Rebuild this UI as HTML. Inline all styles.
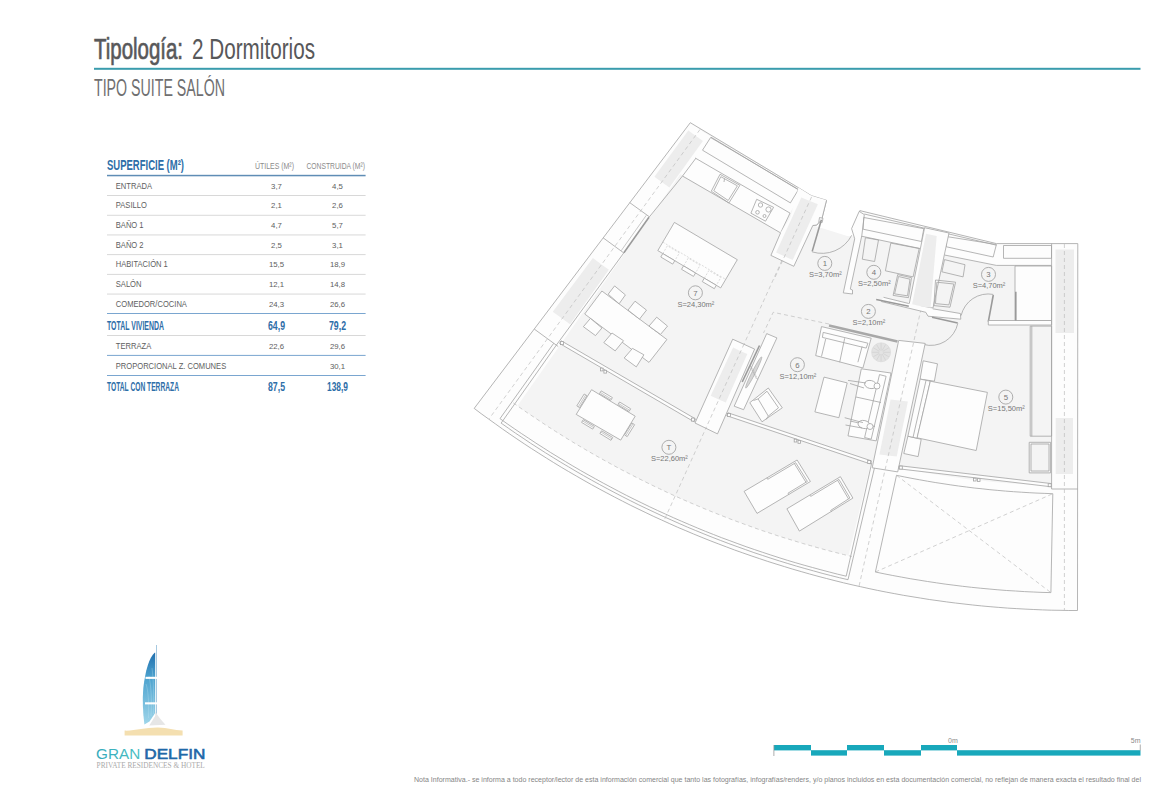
<!DOCTYPE html>
<html><head><meta charset="utf-8"><style>
html,body{margin:0;padding:0;background:#fff;}
svg{display:block;}
.s{fill:none;stroke:#a3a3a3;stroke-width:0.8;}
.fl{fill:#f4f4f4;stroke:none;}
.wh{fill:#fdfdfd;stroke:none;}
.col{fill:#ededed;stroke:none;}
.whs{fill:#fdfdfd;stroke:#a3a3a3;stroke-width:0.8;}
.w{fill:none;stroke:#9a9a9a;stroke-width:1.6;}
.w2{fill:none;stroke:#a8a8a8;stroke-width:2.4;}
.s2{fill:none;stroke:#b0b0b0;stroke-width:0.7;}
.d2{fill:none;stroke:#c4c4c4;stroke-width:0.6;stroke-dasharray:2 1.5;}
.hat{fill:none;stroke:#a8a8a8;stroke-width:0.6;}
.rug{fill:#e3e3e3;stroke:#d6d6d6;stroke-width:0.6;}
.rugl{stroke:#cdcdcd;stroke-width:0.6;}
.lc{fill:none;stroke:#a5a5a5;stroke-width:0.9;}
.ln{font-size:7.8px;fill:#777;}
.lt{font-size:7.8px;fill:#777;}
.d{fill:none;stroke:#bdbdbd;stroke-width:0.7;stroke-dasharray:4 3;}
text{font-family:"Liberation Sans",sans-serif;}
</style></head><body>
<svg width="1170" height="785" viewBox="0 0 1170 785">
<rect width="1170" height="785" fill="#fff"/>
<!-- header -->
<text x="94" y="59" font-size="29" fill="#58585a" stroke="#58585a" stroke-width="0.7" textLength="89" lengthAdjust="spacingAndGlyphs">Tipología:</text>
<text x="192" y="59" font-size="29" fill="#58585a" textLength="123" lengthAdjust="spacingAndGlyphs">2 Dormitorios</text>
<rect x="94" y="67.8" width="1046.5" height="2" fill="#3a9cad"/>
<text x="94" y="96.4" font-size="23.5" fill="#6f6f71" textLength="131" lengthAdjust="spacingAndGlyphs">TIPO SUITE SALÓN</text>
<!-- table -->
<g>
<text x="107" y="169.7" font-size="14.3" font-weight="bold" fill="#2e6ea8" textLength="77" lengthAdjust="spacingAndGlyphs">SUPERFICIE (M²)</text>
<text x="255" y="168.5" font-size="9.6" fill="#8c8c8c" textLength="39" lengthAdjust="spacingAndGlyphs">ÚTILES (M²)</text>
<text x="306.4" y="168.5" font-size="9.6" fill="#8c8c8c" textLength="58.6" lengthAdjust="spacingAndGlyphs">CONSTRUIDA (M²)</text>
<rect x="107" y="174.8" width="258.6" height="1.5" fill="#5f8db5"/>
<text x="115.8" y="188.5" font-size="8.2" fill="#5e5e5e" textLength="36.2" lengthAdjust="spacingAndGlyphs">ENTRADA</text>
<text x="276.5" y="188.5" font-size="7.8" fill="#5e5e5e" text-anchor="middle">3,7</text>
<text x="337.5" y="188.5" font-size="7.8" fill="#5e5e5e" text-anchor="middle">4,5</text>
<rect x="107" y="195.1" width="258.6" height="0.9" fill="#d4d4d4"/>
<text x="115.8" y="208.2" font-size="8.2" fill="#5e5e5e" textLength="31.0" lengthAdjust="spacingAndGlyphs">PASILLO</text>
<text x="276.5" y="208.2" font-size="7.8" fill="#5e5e5e" text-anchor="middle">2,1</text>
<text x="337.5" y="208.2" font-size="7.8" fill="#5e5e5e" text-anchor="middle">2,6</text>
<rect x="107" y="214.8" width="258.6" height="0.9" fill="#d4d4d4"/>
<text x="115.8" y="227.9" font-size="8.2" fill="#5e5e5e" textLength="27.8" lengthAdjust="spacingAndGlyphs">BAÑO 1</text>
<text x="276.5" y="227.9" font-size="7.8" fill="#5e5e5e" text-anchor="middle">4,7</text>
<text x="337.5" y="227.9" font-size="7.8" fill="#5e5e5e" text-anchor="middle">5,7</text>
<rect x="107" y="234.5" width="258.6" height="0.9" fill="#d4d4d4"/>
<text x="115.8" y="247.6" font-size="8.2" fill="#5e5e5e" textLength="27.8" lengthAdjust="spacingAndGlyphs">BAÑO 2</text>
<text x="276.5" y="247.6" font-size="7.8" fill="#5e5e5e" text-anchor="middle">2,5</text>
<text x="337.5" y="247.6" font-size="7.8" fill="#5e5e5e" text-anchor="middle">3,1</text>
<rect x="107" y="254.2" width="258.6" height="0.9" fill="#d4d4d4"/>
<text x="115.8" y="267.3" font-size="8.2" fill="#5e5e5e" textLength="52.0" lengthAdjust="spacingAndGlyphs">HABITACIÓN 1</text>
<text x="276.5" y="267.3" font-size="7.8" fill="#5e5e5e" text-anchor="middle">15,5</text>
<text x="337.5" y="267.3" font-size="7.8" fill="#5e5e5e" text-anchor="middle">18,9</text>
<rect x="107" y="273.9" width="258.6" height="0.9" fill="#d4d4d4"/>
<text x="115.8" y="287.0" font-size="8.2" fill="#5e5e5e" textLength="25.7" lengthAdjust="spacingAndGlyphs">SALÓN</text>
<text x="276.5" y="287.0" font-size="7.8" fill="#5e5e5e" text-anchor="middle">12,1</text>
<text x="337.5" y="287.0" font-size="7.8" fill="#5e5e5e" text-anchor="middle">14,8</text>
<rect x="107" y="293.6" width="258.6" height="0.9" fill="#d4d4d4"/>
<text x="115.8" y="306.7" font-size="8.2" fill="#5e5e5e" textLength="71.1" lengthAdjust="spacingAndGlyphs">COMEDOR/COCINA</text>
<text x="276.5" y="306.7" font-size="7.8" fill="#5e5e5e" text-anchor="middle">24,3</text>
<text x="337.5" y="306.7" font-size="7.8" fill="#5e5e5e" text-anchor="middle">26,6</text>
<rect x="107" y="313" width="258.6" height="1" fill="#7aa6d0"/>
<text x="107" y="329.5" font-size="12.3" font-weight="bold" fill="#2e6ea8" textLength="57" lengthAdjust="spacingAndGlyphs">TOTAL VIVIENDA</text>
<text x="276.5" y="329.5" font-size="12.3" font-weight="bold" fill="#2e6ea8" text-anchor="middle" textLength="17" lengthAdjust="spacingAndGlyphs">64,9</text>
<text x="337.5" y="329.5" font-size="12.3" font-weight="bold" fill="#2e6ea8" text-anchor="middle" textLength="17" lengthAdjust="spacingAndGlyphs">79,2</text>
<rect x="107" y="335" width="258.6" height="0.9" fill="#d4d4d4"/>
<text x="115.8" y="348.6" font-size="8.2" fill="#5e5e5e" textLength="35.4" lengthAdjust="spacingAndGlyphs">TERRAZA</text>
<text x="276.5" y="348.6" font-size="7.8" fill="#5e5e5e" text-anchor="middle">22,6</text>
<text x="337.5" y="348.6" font-size="7.8" fill="#5e5e5e" text-anchor="middle">29,6</text>
<rect x="107" y="354.9" width="258.6" height="1" fill="#7aa6d0"/>
<text x="115.8" y="368.5" font-size="8.2" fill="#5e5e5e" textLength="110.4" lengthAdjust="spacingAndGlyphs">PROPORCIONAL Z. COMUNES</text>
<text x="337.5" y="368.5" font-size="7.8" fill="#5e5e5e" text-anchor="middle">30,1</text>
<rect x="107" y="375" width="258.6" height="1" fill="#7aa6d0"/>
<text x="107" y="391" font-size="12.3" font-weight="bold" fill="#2e6ea8" textLength="72" lengthAdjust="spacingAndGlyphs">TOTAL CON TERRAZA</text>
<text x="276.5" y="391" font-size="12.3" font-weight="bold" fill="#2e6ea8" text-anchor="middle" textLength="17" lengthAdjust="spacingAndGlyphs">87,5</text>
<text x="337.5" y="391" font-size="12.3" font-weight="bold" fill="#2e6ea8" text-anchor="middle" textLength="21" lengthAdjust="spacingAndGlyphs">138,9</text>
</g>
<!-- plan -->
<g>
<polygon class="fl" points="690.3,122.7 798.6,187.8 811.4,195.7 826.5,200.3 821.9,218.7 816.8,225.0 812.8,225.5 820.8,227.8 847.2,235.9 855.5,236.8 859.8,210.6 996.4,243.6 1077.8,243.6 1077.5,610.3 1077.5,610.5 1068.8,610.5 1060.0,610.3 1051.3,610.2 1042.5,609.9 1033.8,609.5 1025.0,609.1 1016.3,608.6 1007.6,608.1 998.8,607.4 990.1,606.7 981.4,605.9 972.7,605.0 964.0,604.0 955.3,603.0 946.6,601.9 938.0,600.7 929.3,599.5 920.7,598.1 912.0,596.7 903.4,595.3 894.8,593.7 886.2,592.1 877.6,590.4 869.1,588.6 860.5,586.7 852.0,584.8 843.5,582.8 835.0,580.7 826.5,578.5 818.0,576.3 809.6,574.0 801.2,571.6 792.8,569.2 784.4,566.6 776.0,564.0 767.7,561.4 759.4,558.6 751.1,555.8 742.8,552.9 734.6,550.0 726.4,546.9 718.2,543.8 710.1,540.7 701.9,537.4 693.8,534.1 685.8,530.7 677.7,527.3 669.7,523.7 661.8,520.1 653.8,516.5 645.9,512.7 638.0,508.9 630.2,505.1 622.4,501.1 614.6,497.1 606.9,493.0 599.2,488.9 591.5,484.7 583.9,480.4 576.3,476.0 568.7,471.6 561.2,467.2 553.7,462.6 546.3,458.0 538.9,453.3 531.5,448.6 524.2,443.8 516.9,438.9 509.7,434.0 502.5,429.0 495.4,423.9 488.3,418.8 481.2,413.7 474.2,408.4" />
<polygon class="wh" points="514.7,403.9 521.8,408.9 529.0,413.8 536.2,418.7 543.4,423.5 550.7,428.2 558.0,432.9 565.4,437.5 572.8,442.1 580.3,446.5 587.8,450.9 595.3,455.3 602.9,459.6 610.5,463.8 618.2,467.9 625.9,472.0 633.6,476.0 641.3,479.9 649.1,483.7 657.0,487.5 664.8,491.3 672.7,494.9 680.7,498.5 688.6,502.0 696.6,505.4 704.6,508.8 712.7,512.1 720.7,515.3 728.9,518.5 737.0,521.5 745.2,524.5 753.3,527.5 761.6,530.3 769.8,533.1 778.1,535.8 786.3,538.5 794.7,541.0 803.0,543.5 811.3,545.9 819.7,548.3 828.1,550.5 836.5,552.7 845.0,554.8 853.4,556.9 847.1,583.6 838.4,581.5 829.7,579.4 821.1,577.1 812.4,574.8 803.8,572.4 795.2,569.9 786.7,567.3 778.1,564.7 769.6,562.0 761.1,559.2 752.6,556.3 744.2,553.4 735.8,550.4 727.4,547.3 719.0,544.1 710.7,540.9 702.4,537.6 694.1,534.2 685.8,530.7 677.6,527.2 669.4,523.6 661.3,519.9 653.2,516.2 645.1,512.3 637.0,508.4 629.0,504.5 621.1,500.4 613.1,496.3 605.2,492.1 597.3,487.9 589.5,483.6 581.7,479.2 574.0,474.7 566.3,470.2 558.6,465.6 551.0,460.9 543.4,456.2 535.8,451.4 528.3,446.5 520.9,441.6 513.5,436.6 506.1,431.5 498.8,426.4" />
<polygon class="wh" points="871.3,461.4 878.8,463.2 886.3,464.9 893.8,466.6 901.4,468.1 908.9,469.6 916.5,471.1 924.1,472.5 931.7,473.8 939.3,475.0 946.9,476.2 954.5,477.3 962.2,478.4 969.8,479.4 977.5,480.3 985.2,481.1 992.8,481.9 1000.5,482.6 1008.2,483.3 1015.9,483.8 1023.6,484.3 1031.3,484.8 1039.0,485.2 1046.7,485.5 1054.4,485.7 1062.1,485.9 1069.8,486.0 1077.5,486.0 1077.5,610.3 1077.5,610.5 1068.7,610.5 1059.9,610.3 1051.1,610.2 1042.3,609.9 1033.5,609.5 1024.7,609.1 1015.9,608.6 1007.1,608.0 998.3,607.4 989.6,606.6 980.8,605.8 972.0,604.9 963.3,604.0 954.5,602.9 945.8,601.8 937.1,600.6 928.4,599.3 919.7,598.0 911.0,596.6 902.3,595.1 893.7,593.5 885.0,591.8 876.4,590.1 867.8,588.3 859.2,586.4 850.6,584.5 842.0,582.4" />
<polygon class="wh" points="690.3,122.3 696.1,126.6 701.9,130.9 707.8,135.1 501.6,428.4 492.5,421.9 483.4,415.2 474.4,408.5" />
<polygon class="wh" points="1051.6,243.6 1077.8,243.6 1077.5,610.3 1051.6,610.0" />
<polygon class="wh" points="705.0,133.1 802.7,190.3 790.0,213.1 780.6,232.9 677.2,172.3" />
<polygon class="wh" points="859.8,210.6 996.4,243.6 1077.8,243.6 1051.6,265.4 996.4,265.4 944.5,255.0 920.0,248.5 861.5,236.2 855.5,236.8" />
<polygon class="col" points="688.3,130.4 702.9,141.0 669.4,187.5 654.4,176.7" />
<polygon class="col" points="592.9,258.0 600.8,263.9 608.9,269.7 570.1,324.3 561.4,318.1 552.8,311.7" />
<polygon class="col" points="1055.5,249.5 1074.0,249.5 1074.0,333.0 1055.5,333.0" />
<polygon class="col" points="1055.7,418.0 1073.0,418.0 1073.0,474.0 1055.7,474.0" />
<polyline class="s" points="690.3,122.7 798.6,187.8 811.4,195.7 826.5,200.3 821.9,218.7 816.8,225.0 812.8,225.5" />
<polyline class="s" points="855.5,236.8 859.8,210.6 996.4,243.6 1077.8,243.6 1077.5,610.3 1077.5,610.5 1068.8,610.5 1060.0,610.3 1051.3,610.2 1042.5,609.9 1033.8,609.5 1025.0,609.1 1016.3,608.6 1007.6,608.1 998.8,607.4 990.1,606.7 981.4,605.9 972.7,605.0 964.0,604.0 955.3,603.0 946.6,601.9 938.0,600.7 929.3,599.5 920.7,598.1 912.0,596.7 903.4,595.3 894.8,593.7 886.2,592.1 877.6,590.4 869.1,588.6 860.5,586.7 852.0,584.8 843.5,582.8 835.0,580.7 826.5,578.5 818.0,576.3 809.6,574.0 801.2,571.6 792.8,569.2 784.4,566.6 776.0,564.0 767.7,561.4 759.4,558.6 751.1,555.8 742.8,552.9 734.6,550.0 726.4,546.9 718.2,543.8 710.1,540.7 701.9,537.4 693.8,534.1 685.8,530.7 677.7,527.3 669.7,523.7 661.8,520.1 653.8,516.5 645.9,512.7 638.0,508.9 630.2,505.1 622.4,501.1 614.6,497.1 606.9,493.0 599.2,488.9 591.5,484.7 583.9,480.4 576.3,476.0 568.7,471.6 561.2,467.2 553.7,462.6 546.3,458.0 538.9,453.3 531.5,448.6 524.2,443.8 516.9,438.9 509.7,434.0 502.5,429.0 495.4,423.9 488.3,418.8 481.2,413.7 474.2,408.4 690.3,122.7" />
<polyline class="s" points="695.9,158.2 682.7,175.8 649.2,217.1" />
<polyline class="s" points="623.8,252.9 556.3,345.2 502.0,421.9" />
<line class="s" x1="629.7" y1="202.6" x2="649.5" y2="216.9" />
<line class="s" x1="603.1" y1="237.8" x2="624.0" y2="253.1" />
<line class="s" x1="534.3" y1="329.1" x2="558.2" y2="346.5" />
<line class="w" x1="649.0" y1="217.2" x2="623.9" y2="252.7" />
<line class="s2" x1="646.3" y1="215.3" x2="621.1" y2="250.8" />
<polyline class="d" points="700.0,129.5 489.1,418.8" />
<polyline class="s" points="553.7,343.3 500.0,418.6 500.0,418.6 507.1,423.7 514.2,428.6 521.4,433.5 528.7,438.3 535.9,443.1 543.3,447.8 550.6,452.5 558.0,457.0 565.4,461.5 572.9,466.0 580.4,470.4 588.0,474.7 595.6,478.9 603.2,483.1 610.9,487.2 618.6,491.3 626.3,495.3 634.1,499.2 641.9,503.0 649.7,506.8 657.6,510.5 665.5,514.1 673.4,517.7 681.4,521.2 689.4,524.6 697.4,528.0 705.4,531.3 713.5,534.5 721.6,537.7 729.8,540.7 737.9,543.7 746.1,546.7 754.3,549.5 762.6,552.3 770.8,555.0 779.1,557.7 787.4,560.3 795.8,562.8 804.1,565.2 812.5,567.5 820.9,569.8 829.3,572.0 837.7,574.2 846.2,576.2" />
<polyline class="s" points="502.0,421.9 501.1,423.1 508.4,428.2 515.7,433.3 523.1,438.2 530.5,443.2 538.0,448.0 545.5,452.8 553.1,457.5 560.7,462.2 568.3,466.7 576.0,471.3 583.7,475.7 591.5,480.1 599.3,484.4 607.1,488.6 615.0,492.8 622.9,496.9 630.8,500.9 638.8,504.9 646.8,508.7 654.9,512.5 663.0,516.3 671.1,519.9 679.2,523.5 687.4,527.1 695.6,530.5 703.9,533.9 712.1,537.2 720.4,540.4 728.8,543.6 737.1,546.6 745.5,549.6 753.9,552.6 762.4,555.4 770.8,558.2 779.3,560.9 787.8,563.5 796.4,566.1 804.9,568.5 813.5,570.9 822.1,573.3 830.7,575.5 839.4,577.7 848.0,579.7" />
<polyline class="d" points="513.3,402.9 520.2,407.8 527.2,412.7 534.3,417.4 541.3,422.1 548.4,426.8 555.6,431.4 562.8,435.9 570.0,440.4 577.3,444.8 584.6,449.1 592.0,453.4 599.4,457.6 606.8,461.7 614.2,465.8 621.7,469.8 629.3,473.7 636.8,477.6 644.4,481.4 652.1,485.2 659.7,488.8 667.4,492.5 675.1,496.0 682.9,499.5 690.7,502.9 698.5,506.2 706.3,509.5 714.2,512.7 722.1,515.8 730.0,518.9 738.0,521.9 746.0,524.8 754.0,527.7 762.0,530.5 770.1,533.2 778.1,535.9 786.2,538.4 794.4,540.9 802.5,543.4 810.7,545.7 818.8,548.0 827.1,550.3 835.3,552.4 843.5,554.5 851.8,556.5" />
<polyline class="s" points="871.8,462.6 846.2,576.2" />
<polyline class="s" points="875.5,463.5 848.0,579.7" />
<polyline class="d" points="811.0,196.4 664.0,520.6" />
<polyline class="d" points="937.9,233.6 859.1,585.9" />
<polyline class="s" points="711.0,137.2 797.8,189.4" />
<polygon class="s" points="710.6,137.5 798.5,189.5 790.4,202.9 702.5,150.2" />
<polyline class="s" points="695.2,158.0 790.0,213.1 780.6,232.9" />
<polyline class="s" points="682.6,176.1 780.6,232.9" />
<polygon class="s" points="720.0,174.3 739.9,185.3 728.9,203.0 711.3,191.2" />
<polygon class="s" points="720.8,176.7 737.4,185.8 728.2,200.5 713.8,190.7" />
<line class="s" x1="724.5" y1="178.5" x2="724.0" y2="182.0" />
<polygon class="s" points="756.7,199.3 773.6,207.3 765.5,221.2 750.9,213.2" />
<circle class="s" cx="760.5" cy="205.0" r="2.2" />
<circle class="s" cx="768.5" cy="209.5" r="2.6" />
<circle class="s" cx="757.5" cy="212.3" r="1.8" />
<circle class="s" cx="764.5" cy="216.0" r="1.5" />
<polygon class="wh" points="798.6,187.8 811.4,195.7 826.5,200.3 821.9,218.7 816.8,225.0 812.8,225.5 793.8,266.3 770.9,255.4 780.5,233.0 790.4,217.0" />
<polyline class="s" points="826.5,200.3 821.9,218.7 816.8,225.0 812.8,225.5 793.8,266.3 770.9,255.4 780.5,233.0" />
<polygon class="whs" points="819.5,217.5 823.0,218.3 822.2,222.5 818.8,221.8" stroke-width="0.6"/>
<polygon class="col" points="801.3,197.5 817.9,204.3 792.7,260.0 776.1,252.5" />
<line class="d" x1="811.6" y1="196.9" x2="773.8" y2="280.0" />
<line class="w" x1="821.4" y1="219.8" x2="812.2" y2="251.4" />
<path class="s" d="M812.2,251.9 A33.4,33.4 0 0 0 851.7,235.3"/>
<polygon class="whs" points="859.2,211.4 864.3,214.6 861.8,235.6 850.3,289.1 852.5,290.0 852.5,294.0 843.3,292.9 854.7,238.8 851.6,228.6" />
<polyline class="s" points="864.3,214.0 996.4,245.2" />
<polygon class="s" points="863.8,217.5 923.8,228.7 921.5,241.5 863.1,229.2" />
<polyline class="s" points="861.5,236.2 920.0,248.5" />
<polygon class="s" points="946.4,236.5 996.4,244.5 993.2,257.0 946.4,246.8" />
<polyline class="s" points="944.5,255.0 996.4,265.4 1051.6,265.4" />
<polygon class="s" points="1003.5,245.5 1051.5,245.5 1051.5,258.3 1003.5,258.3" />
<polygon class="whs" points="924.6,227.7 949.0,233.0 933.0,308.0 909.0,305.0" />
<polygon class="col" points="926.0,233.8 936.7,236.0 930.6,307.8 912.0,305.0" />
<polygon class="s" points="865.4,237.7 878.5,240.0 874.6,261.5 862.3,259.2" />
<polygon class="s" points="890.8,243.1 919.2,248.5 913.1,276.9 885.4,270.8" />
<polygon class="s" points="897.7,274.6 911.5,277.7 908.5,297.7 893.1,295.4" />
<polygon class="s" points="898.5,276.5 910.0,279.2 907.5,295.8 894.6,293.9" />
<polygon class="wh" points="883.5,297.3 908.8,303.5 932.7,308.8 960.4,313.5 960.8,319.2 928.0,316.2 925.8,312.3 881.2,301.5" />
<polyline class="s" points="883.5,297.3 908.8,303.5" />
<polyline class="s" points="932.7,308.8 960.4,313.5 960.8,319.2" />
<polyline class="s" points="881.2,301.5 925.8,312.3 928.0,316.2 960.8,319.2" />
<line class="w" x1="876.2" y1="299.5" x2="908.8" y2="306.2" />
<line class="w" x1="932.0" y1="317.3" x2="957.7" y2="323.0" />
<polygon class="s" points="944.5,259.6 965.0,264.7 963.1,276.9 941.9,271.8" />
<polygon class="s" points="935.5,280.0 955.6,282.2 950.0,307.2 933.9,305.6" />
<polygon class="s" points="936.8,282.2 953.8,284.0 948.9,304.9 935.5,303.6" />
<line class="w" x1="993.3" y1="295.0" x2="988.3" y2="321.7" />
<path class="s" d="M961.1,315.6 A27.9,27.9 0 0 1 993.3,294.4"/>
<polygon class="whs" points="988.3,320.5 1051.6,320.5 1051.6,325.0 988.3,325.0" />
<polygon class="whs" points="1015.0,266.0 1051.6,266.0 1051.6,320.5 1015.0,320.5" />
<line class="w" x1="1015.8" y1="291.7" x2="1015.8" y2="320.5" />
<line class="s" x1="1051.6" y1="243.6" x2="1051.6" y2="489.0" />
<path class="s" d="M957.8,323.3 A27.6,27.6 0 0 1 923.3,344.4"/>
<polygon class="whs" points="898.7,340.4 925.2,343.4 897.7,471.9 872.2,467.8" />
<polygon class="col" points="890.6,399.5 907.9,401.5 896.7,456.6 879.4,454.6" />
<line class="d" x1="913.5" y1="342.9" x2="885.1" y2="469.8" />
<line class="w2" x1="829.0" y1="325.5" x2="897.5" y2="341.5" />
<polygon class="whs" points="821.5,326.6 871.2,338.2 862.9,368.0 815.7,355.6" />
<polygon class="s" points="823.2,332.4 867.9,343.2 866.2,348.1 822.4,337.4" />
<line class="s" x1="825.7" y1="339.0" x2="821.5" y2="356.4" />
<line class="s" x1="862.1" y1="346.5" x2="857.9" y2="362.2" />
<line class="s" x1="844.7" y1="338.2" x2="839.7" y2="362.2" />
<circle class="rug" cx="881.1" cy="352.3" r="9.5" />
<line class="rugl" x1="883.1" y1="352.3" x2="890.1" y2="352.3" />
<line class="rugl" x1="882.8" y1="353.3" x2="888.9" y2="356.8" />
<line class="rugl" x1="882.1" y1="354.0" x2="885.6" y2="360.1" />
<line class="rugl" x1="881.1" y1="354.3" x2="881.1" y2="361.3" />
<line class="rugl" x1="880.1" y1="354.0" x2="876.6" y2="360.1" />
<line class="rugl" x1="879.4" y1="353.3" x2="873.3" y2="356.8" />
<line class="rugl" x1="879.1" y1="352.3" x2="872.1" y2="352.3" />
<line class="rugl" x1="879.4" y1="351.3" x2="873.3" y2="347.8" />
<line class="rugl" x1="880.1" y1="350.6" x2="876.6" y2="344.5" />
<line class="rugl" x1="881.1" y1="350.3" x2="881.1" y2="343.3" />
<line class="rugl" x1="882.1" y1="350.6" x2="885.6" y2="344.5" />
<line class="rugl" x1="882.8" y1="351.3" x2="888.9" y2="347.8" />
<polygon class="whs" points="861.3,368.8 891.0,373.0 876.2,440.9 848.0,435.9" />
<polygon class="s" points="879.5,374.6 886.1,376.3 871.2,439.2 864.6,437.5" />
<line class="s" x1="856.0" y1="397.0" x2="881.0" y2="402.5" />
<line class="s" x1="850.0" y1="421.0" x2="875.0" y2="426.5" />
<ellipse class="whs" cx="870.5" cy="384.5" rx="6" ry="4" transform="rotate(12 870.5 384.5)" stroke-width="0.6"/>
<circle class="whs" cx="877.0" cy="386.0" r="3.0" stroke-width="0.6"/>
<line class="s" x1="848.0" y1="380.4" x2="866.0" y2="383.0" stroke-width="0.6"/>
<line class="s" x1="850.0" y1="383.5" x2="864.0" y2="388.0" stroke-width="0.6"/>
<ellipse class="whs" cx="864" cy="424.5" rx="6" ry="4" transform="rotate(12 864 424.5)" stroke-width="0.6"/>
<circle class="whs" cx="870.0" cy="426.5" r="3.0" stroke-width="0.6"/>
<line class="s" x1="844.7" y1="417.7" x2="862.9" y2="422.6" stroke-width="0.6"/>
<line class="s" x1="845.5" y1="425.0" x2="862.0" y2="428.0" stroke-width="0.6"/>
<polygon class="whs" points="824.0,377.1 847.2,382.9 838.9,417.7 814.9,411.9" />
<polygon class="whs" points="766.7,333.6 776.9,337.9 743.6,409.7 734.2,406.2" />
<line class="w" x1="759.5" y1="345.5" x2="742.2" y2="382.0" />
<ellipse cx="753.7" cy="372.5" rx="17.5" ry="1.7" transform="rotate(117 753.7 372.5)" fill="#d6d6d6" stroke="#a8a8a8" stroke-width="0.6"/>
<line class="hat" x1="749.2" y1="365.8" x2="752.2" y2="367.4" />
<line class="hat" x1="750.2" y1="367.8" x2="753.2" y2="369.4" />
<line class="hat" x1="751.2" y1="369.7" x2="754.2" y2="371.3" />
<line class="hat" x1="752.2" y1="371.7" x2="755.2" y2="373.3" />
<line class="hat" x1="753.2" y1="373.7" x2="756.2" y2="375.3" />
<line class="hat" x1="754.2" y1="375.6" x2="757.2" y2="377.2" />
<line class="hat" x1="755.2" y1="377.6" x2="758.2" y2="379.2" />
<polygon class="whs" points="732.7,339.2 754.6,349.1 717.5,433.9 695.0,423.0" />
<polygon class="col" points="733.1,347.6 740.2,350.9 747.3,354.1 725.8,402.6 718.2,399.2 710.7,395.7" />
<line class="d" x1="744.1" y1="343.9" x2="705.7" y2="428.6" />
<polygon class="whs" points="768.3,388.0 782.3,407.8 762.0,421.8 749.8,402.7" stroke-linejoin="round"/>
<polygon class="s" points="758.1,398.9 767.0,391.2 778.5,407.8 768.3,416.1" />
<line class="s" x1="753.5" y1="400.5" x2="758.1" y2="398.9" />
<line class="s" x1="768.3" y1="416.1" x2="766.0" y2="419.5" />
<polyline class="d" points="829.0,324.0 773.2,312.3 763.5,333.0" />
<polygon class="whs" points="561.3,340.8 695.5,418.9 694.1,421.8 559.5,343.4" stroke-width="0.7"/>
<rect class="whs" x="560.4" y="341.6" width="3" height="3" stroke-width="0.6"/>
<rect class="whs" x="691.6" y="418.1" width="3" height="3" stroke-width="0.6"/>
<rect class="whs" x="603.9" y="370.3" width="2.6" height="2.8" stroke-width="0.6"/>
<rect class="whs" x="600.4" y="368.1" width="2.6" height="2.8" stroke-width="0.6"/>
<polygon class="whs" points="728.0,412.8 871.4,460.9 870.6,464.0 726.7,415.7" stroke-width="0.7"/>
<rect class="whs" x="727.5" y="413.5" width="3" height="3" stroke-width="0.6"/>
<rect class="whs" x="867.7" y="460.5" width="3" height="3" stroke-width="0.6"/>
<rect class="whs" x="798.0" y="440.5" width="2.6" height="2.8" stroke-width="0.6"/>
<rect class="whs" x="794.2" y="439.2" width="2.6" height="2.8" stroke-width="0.6"/>
<polygon class="whs" points="899.3,465.7 1051.5,483.6 1051.4,486.8 898.7,468.8" stroke-width="0.7"/>
<rect class="whs" x="899.3" y="466.1" width="3" height="3" stroke-width="0.6"/>
<rect class="whs" x="1048.2" y="483.7" width="3" height="3" stroke-width="0.6"/>
<rect class="whs" x="977.4" y="478.6" width="2.6" height="2.8" stroke-width="0.6"/>
<rect class="whs" x="973.5" y="478.2" width="2.6" height="2.8" stroke-width="0.6"/>
<polygon class="whs" points="674.4,222.4 737.3,259.7 720.7,287.9 657.8,250.6" />
<polyline class="d2" points="662.8,242.1 725.7,279.4" />
<polygon class="whs" points="662.8,253.6 674.8,260.7 672.7,264.1 660.8,257.0" />
<polyline class="d2" points="662.8,253.6 667.4,245.8 679.4,252.9 674.8,260.7" />
<polygon class="whs" points="683.6,265.9 695.5,273.0 693.5,276.4 681.5,269.3" />
<polyline class="d2" points="683.6,265.9 688.2,258.2 700.1,265.2 695.5,273.0" />
<polygon class="whs" points="704.3,278.2 716.3,285.3 714.3,288.7 702.3,281.6" />
<polyline class="d2" points="704.3,278.2 708.9,270.5 720.9,277.5 716.3,285.3" />
<polygon class="whs" points="601.9,291.0 666.9,339.5 649.0,362.4 584.7,314.0" />
<polygon class="whs" points="614.6,285.9 625.4,294.9 619.1,303.8 608.2,294.2" />
<polygon class="whs" points="635.0,301.2 646.5,310.1 639.5,319.1 628.0,310.1" />
<polygon class="whs" points="656.7,317.2 667.5,326.1 660.5,334.4 649.0,326.1" />
<polygon class="whs" points="590.4,318.4 601.9,328.0 595.5,335.6 583.4,326.7" />
<polygon class="whs" points="612.0,333.0 623.5,340.7 615.2,350.9 603.8,342.6" />
<polygon class="whs" points="632.5,348.4 643.9,354.8 636.3,366.9 624.2,358.0" />
<polygon class="whs" points="591.6,389.7 635.2,416.2 620.7,440.1 576.2,414.4" />
<polygon class="whs" points="610.7,400.3 599.5,393.6 601.2,390.9 612.4,397.6" />
<polyline class="s2" points="611.4,399.1 600.3,392.4" />
<polygon class="whs" points="594.4,426.4 583.3,419.7 581.6,422.4 592.7,429.1" />
<polyline class="s2" points="593.6,427.6 582.5,420.9" />
<polygon class="whs" points="629.0,411.5 617.9,404.7 619.6,402.0 630.7,408.8" />
<polyline class="s2" points="629.7,410.3 618.6,403.5" />
<polygon class="whs" points="612.7,437.5 601.6,430.8 599.9,433.5 611.0,440.3" />
<polyline class="s2" points="612.0,438.8 600.9,432.0" />
<polygon class="whs" points="579.5,407.6 586.9,395.7 584.2,394.0 576.8,405.9" />
<polyline class="s2" points="578.3,406.8 585.7,394.9" />
<polygon class="whs" points="624.5,434.9 631.9,423.0 634.6,424.7 627.2,436.6" />
<polyline class="s2" points="625.7,435.7 633.1,423.8" />
<polygon class="whs" points="797.1,460.0 810.4,481.5 757.0,513.4 744.1,491.4" />
<polyline class="s" points="766.9,477.9 767.7,479.3 795.7,462.7 807.4,481.4 788.0,493.2 788.8,494.6" />
<polyline class="s" points="794.3,463.5 806.0,482.3" />
<polygon class="whs" points="840.4,476.7 852.9,498.1 799.4,531.1 786.9,508.8" />
<polyline class="s" points="809.9,495.0 810.7,496.4 839.0,479.4 849.9,498.0 830.7,510.4 831.5,511.8" />
<polyline class="s" points="837.6,480.3 848.5,498.9" />
<polyline class="s" points="896.5,475.3 904.2,476.9 912.0,478.4 919.7,479.8 927.5,481.2 935.2,482.5 943.0,483.7 950.8,484.9 958.6,486.0 966.4,487.0 974.2,488.0 982.1,488.8 989.9,489.7 997.8,490.4 1005.6,491.1 1013.5,491.7 1021.3,492.2 1029.2,492.7 1037.0,493.1 1044.9,493.4 1052.8,493.7 1050.9,592.6 1042.0,592.4 1033.2,592.0 1024.4,591.6 1015.5,591.0 1006.7,590.5 997.9,589.8 989.1,589.0 980.3,588.2 971.5,587.3 962.7,586.3 953.9,585.2 945.1,584.1 936.4,582.8 927.6,581.5 918.9,580.1 910.2,578.7 901.5,577.1 892.8,575.5 884.1,573.8 875.4,572.0 896.5,475.3" />
<line class="d" x1="896.5" y1="475.3" x2="1050.9" y2="592.6" />
<line class="d" x1="875.4" y1="572.0" x2="1052.8" y2="493.7" />
<line class="s" x1="1051.6" y1="489.0" x2="1077.8" y2="489.0" />
<line class="d" x1="1064.4" y1="244.0" x2="1064.4" y2="610.0" />
<polygon class="whs" points="923.2,360.8 937.5,363.8 934.4,381.2 920.1,379.1" />
<polygon class="whs" points="907.9,436.2 921.2,439.3 918.1,456.6 903.8,453.5" />
<polygon class="whs" points="920.1,379.1 930.3,381.2 917.1,438.2 907.9,436.2" />
<line class="s" x1="926.0" y1="380.5" x2="913.0" y2="437.5" />
<polygon class="whs" points="930.3,381.2 987.4,392.4 976.2,450.5 917.1,437.8" />
<polygon class="s" points="1030.2,326.1 1051.6,326.1 1051.6,436.2 1030.2,436.2" />
<line class="s" x1="1031.8" y1="326.1" x2="1031.8" y2="436.2" />
<polygon class="s" points="1029.2,442.3 1050.6,442.3 1050.6,472.9 1029.2,472.9" />
<polygon class="s" points="1031.0,444.0 1049.0,444.0 1049.0,471.0 1031.0,471.0" />
<circle class="lc" cx="695.4" cy="292.8" r="7.0" /><text class="ln" x="695.4" y="295.6" text-anchor="middle">7</text><text class="lt" x="695.9" y="306.8" text-anchor="middle" textLength="36.9" lengthAdjust="spacingAndGlyphs">S=24,30m²</text>
<circle class="lc" cx="824.8" cy="263.4" r="7.0" /><text class="ln" x="824.8" y="266.2" text-anchor="middle">1</text><text class="lt" x="825.3" y="277.4" text-anchor="middle" textLength="32.7" lengthAdjust="spacingAndGlyphs">S=3,70m²</text>
<circle class="lc" cx="873.8" cy="272.3" r="7.0" /><text class="ln" x="873.8" y="275.1" text-anchor="middle">4</text><text class="lt" x="874.3" y="286.3" text-anchor="middle" textLength="32.7" lengthAdjust="spacingAndGlyphs">S=2,50m²</text>
<circle class="lc" cx="988.5" cy="274.4" r="7.0" /><text class="ln" x="988.5" y="277.2" text-anchor="middle">3</text><text class="lt" x="989.0" y="288.4" text-anchor="middle" textLength="32.7" lengthAdjust="spacingAndGlyphs">S=4,70m²</text>
<circle class="lc" cx="868.4" cy="311.4" r="7.0" /><text class="ln" x="868.4" y="314.2" text-anchor="middle">2</text><text class="lt" x="868.9" y="325.4" text-anchor="middle" textLength="32.7" lengthAdjust="spacingAndGlyphs">S=2,10m²</text>
<circle class="lc" cx="797.4" cy="364.7" r="7.0" /><text class="ln" x="797.4" y="367.5" text-anchor="middle">6</text><text class="lt" x="797.9" y="378.7" text-anchor="middle" textLength="36.9" lengthAdjust="spacingAndGlyphs">S=12,10m²</text>
<circle class="lc" cx="1005.8" cy="397.1" r="7.0" /><text class="ln" x="1005.8" y="399.9" text-anchor="middle">5</text><text class="lt" x="1006.3" y="411.1" text-anchor="middle" textLength="36.9" lengthAdjust="spacingAndGlyphs">S=15,50m²</text>
<circle class="lc" cx="668.9" cy="447.3" r="7.0" /><text class="ln" x="668.9" y="450.1" text-anchor="middle">T</text><text class="lt" x="669.4" y="461.3" text-anchor="middle" textLength="36.9" lengthAdjust="spacingAndGlyphs">S=22,60m²</text>
</g>
<!-- logo -->
<g>
<defs>
<linearGradient id="sg" x1="0" y1="0" x2="0" y2="1">
<stop offset="0" stop-color="#1f6fae"/><stop offset="0.35" stop-color="#4da3cf"/><stop offset="1" stop-color="#9fd6ea"/>
</linearGradient>
<linearGradient id="tg" x1="0" y1="0" x2="1" y2="0">
<stop offset="0" stop-color="#33a9bb"/><stop offset="1" stop-color="#4cc0c4"/>
</linearGradient>
</defs>
<line x1="156.5" y1="645" x2="156.5" y2="716" stroke="#9cc3dd" stroke-width="0.9"/>
<path d="M154.6,652.7 C149,658 145.5,670 143.3,688 C142.3,700 142.8,712 144.4,724.6 L149.5,721.5 L155.2,713 L155.2,652.7 Z" fill="url(#sg)"/>
<g stroke="#c9e8f3" stroke-width="0.35" fill="none" opacity="0.8">
<path d="M146,684 C148,690 149,700 148.5,718"/><path d="M149,676 C151,686 152,700 151,716"/><path d="M152,668 C153.5,680 154,696 153.5,714"/>
</g>
<rect x="145.5" y="676.8" width="11.5" height="2.1" fill="#fff"/>
<rect x="145" y="702.3" width="12" height="2.1" fill="#fff"/>
<path d="M155.2,711.5 C158,716 162,721 165.5,724.8 L149.3,725.4 L155.2,716 Z" fill="#e6e6e6"/>
<path d="M124.6,730.6 C135,731 145,727.5 158,727.6 C168,727.8 174,730.5 182.6,730.6 L182.6,735.6 L124.6,735.6 Z" fill="#f4dfb0"/>
<text x="96.1" y="758.5" font-size="15.2" fill="url(#tg)" textLength="44.1" lengthAdjust="spacingAndGlyphs">GRAN</text>
<text x="144.3" y="758.5" font-size="15.2" fill="#1f68a8" stroke="#1f68a8" stroke-width="0.6" textLength="61" lengthAdjust="spacingAndGlyphs">DELFIN</text>
<text x="96.6" y="767.7" font-family="Liberation Serif" font-size="8" fill="#a9a9a9" textLength="108.2" lengthAdjust="spacingAndGlyphs" style="font-family:'Liberation Serif',serif">PRIVATE RESIDENCES &amp; HOTEL</text>
</g>
<!-- scale -->
<g fill="#18a8bb">
<rect x="774" y="745" width="37" height="5.4"/>
<rect x="811" y="750.2" width="36" height="5.4"/>
<rect x="847" y="745" width="37" height="5.4"/>
<rect x="884" y="750.2" width="37" height="5.4"/>
<rect x="921" y="745" width="36" height="5.4"/>
<rect x="957" y="750.2" width="183.5" height="5.4"/>
</g>
<rect x="773.5" y="745" width="0.8" height="11" fill="#999"/>
<rect x="1139.8" y="744.5" width="0.8" height="6" fill="#999"/>
<text x="948" y="742.5" font-size="7" fill="#8a8a8a">0m</text>
<text x="1130.8" y="742.5" font-size="7" fill="#8a8a8a">5m</text>
<text x="414" y="781.5" font-size="6.7" fill="#858585" textLength="727" lengthAdjust="spacingAndGlyphs">Nota Informativa.- se informa a todo receptor/lector de esta información comercial que tanto las fotografías, infografías/renders, y/o planos incluidos en esta documentación comercial, no reflejan de manera exacta el resultado final del</text>
</svg>
</body></html>
